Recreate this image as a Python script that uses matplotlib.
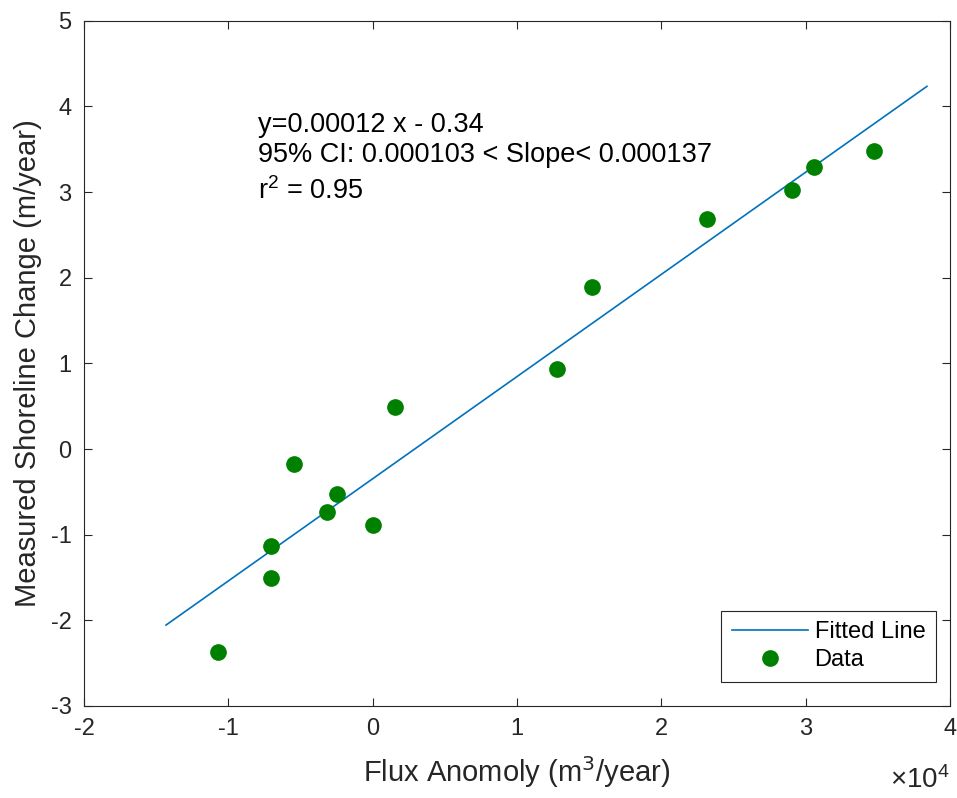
import matplotlib
matplotlib.use("Agg")
import matplotlib.pyplot as plt
from matplotlib.ticker import FuncFormatter
import numpy as np

# ── data ────────────────────────────────────────────────────
flux_anomaly = [-10720, -7050, -7050, -5440, -3170, -2470, 20, 1540,
                12790, 15180, 23170, 29040, 30560, 34750]          # m^3/year
shoreline_change = [-2.37, -1.51, -1.13, -0.18, -0.74, -0.53, -0.89, 0.49,
                    0.94, 1.89, 2.68, 3.02, 3.29, 3.48]            # m/year

fit_slope = 0.0001193
fit_intercept = -0.347
fit_x_range = [-14320, 38400]

annotation_lines = ["y=0.00012 x - 0.34",
                    "95% CI: 0.000103 < Slope< 0.000137",
                    r"$\mathregular{r^2}$ = 0.95"]

x_ticks = [-20000, -10000, 0, 10000, 20000, 30000, 40000]
y_ticks = [-3, -2, -1, 0, 1, 2, 3, 4, 5]

AX_COLOR = "#262626"
plt.rcParams["font.family"] = ["Liberation Sans", "DejaVu Sans"]

fig = plt.figure(figsize=(9.57, 7.98), dpi=100)
ax = fig.add_axes([0.0878, 0.1153, 0.9049, 0.8587])

fit_x = np.array(fit_x_range, dtype=float)
ax.plot(fit_x, fit_slope * fit_x + fit_intercept, color="#0072BD",
        lw=1.2, label="Fitted Line")
ax.plot(flux_anomaly, shoreline_change, "o", color="#008000", ms=11,
        label="Data")

ax.set_xlim(-20000, 40000)
ax.set_ylim(-3, 5)
ax.set_xticks(x_ticks)
ax.set_yticks(y_ticks)
ax.xaxis.set_major_formatter(FuncFormatter(lambda v, p: f"{v / 1e4:g}"))
ax.yaxis.set_major_formatter(FuncFormatter(lambda v, p: f"{v:g}"))

ax.tick_params(direction="in", length=6, width=0.8, colors=AX_COLOR,
               labelsize=17, top=True, right=True, pad=9)
for s in ax.spines.values():
    s.set_color(AX_COLOR)
    s.set_linewidth(0.8)

ax.set_xlabel("Flux Anomoly (m$^3$/year)", fontsize=21, color=AX_COLOR, labelpad=10)
ax.set_ylabel("Measured Shoreline Change (m/year)", fontsize=21, color=AX_COLOR, labelpad=6)

# exponent of the x axis, as MATLAB puts it
ax.text(1.0, -0.1195, "\u00d710$\\mathregular{^{4}}$", transform=ax.transAxes,
        fontsize=20, color=AX_COLOR, ha="right", va="baseline")

# fit annotation (three lines, like the original)
text_y = [3.70, 3.35, 2.92]
for line, ty in zip(annotation_lines, text_y):
    ax.text(-7950, ty, line, fontsize=19.5, color="black", va="baseline")

leg = ax.legend(loc="lower right", bbox_to_anchor=(0.9838, 0.035),
                fontsize=17, fancybox=False, framealpha=1,
                edgecolor=AX_COLOR, handlelength=3.2, handletextpad=0.3,
                borderpad=0.45, labelspacing=0.25, borderaxespad=0)
leg.get_frame().set_linewidth(0.8)

fig.savefig("out.png", dpi=100)
